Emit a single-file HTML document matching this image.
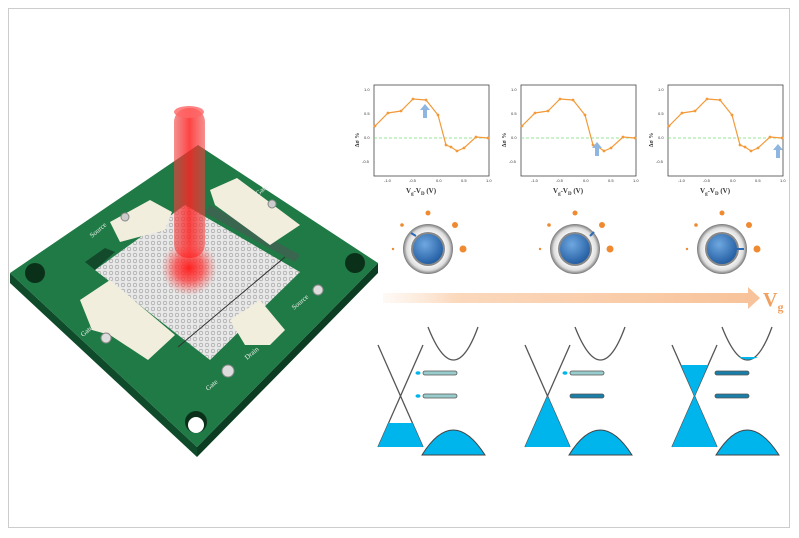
<!DOCTYPE html>
<html><head><meta charset="utf-8"><style>
html,body{margin:0;padding:0;background:#fff;}
svg{display:block;font-family:"Liberation Serif",serif;}
</style></head><body>
<svg width="799" height="538" viewBox="0 0 799 538" xmlns="http://www.w3.org/2000/svg">
<defs>
<linearGradient id="arr" x1="0" x2="1" y1="0" y2="0">
<stop offset="0" stop-color="#fbe3cf" stop-opacity="0.2"/><stop offset="0.2" stop-color="#fbd9bd"/><stop offset="1" stop-color="#f8c39a"/></linearGradient>
<radialGradient id="blue" cx="0.4" cy="0.35" r="0.7"><stop offset="0" stop-color="#6fa8e0"/><stop offset="1" stop-color="#1f5aa0"/></radialGradient>
<radialGradient id="ring" cx="0.5" cy="0.5" r="0.5"><stop offset="0.6" stop-color="#fff"/><stop offset="0.85" stop-color="#ddd"/><stop offset="1" stop-color="#777"/></radialGradient>
<radialGradient id="spot" cx="0.5" cy="0.5" r="0.5"><stop offset="0" stop-color="#ff2020"/><stop offset="0.5" stop-color="#f33" stop-opacity="0.7"/><stop offset="1" stop-color="#f66" stop-opacity="0"/></radialGradient>
<linearGradient id="beam" x1="0" x2="1"><stop offset="0" stop-color="#e44" stop-opacity="0.6"/><stop offset="0.5" stop-color="#f22" stop-opacity="0.85"/><stop offset="1" stop-color="#e44" stop-opacity="0.6"/></linearGradient>
<pattern id="hex" width="6" height="6" patternUnits="userSpaceOnUse"><rect width="6" height="6" fill="#e8e8e8"/><circle cx="3" cy="3" r="1.8" fill="none" stroke="#999" stroke-width="0.6"/></pattern>
</defs>
<rect x="8.5" y="8.5" width="781" height="519" fill="#fff" stroke="#ccc"/>

<!-- chip -->
<polygon points="10,273 197,447 197,457 10,283" fill="#0f4a2a"/>
<polygon points="197,447 378,263 378,273 197,457" fill="#0c3d22"/>
<polygon points="198,145 378,263 197,447 10,273" fill="#1f7a45"/>
<circle cx="35" cy="273" r="10" fill="#0b3019"/>
<circle cx="355" cy="263" r="10" fill="#0b3019"/>
<circle cx="196" cy="422" r="11" fill="#0b3019"/><circle cx="196" cy="425" r="8" fill="#fff"/>
<!-- graphene area -->
<polygon points="185,205 300,272 210,360 95,270" fill="url(#hex)"/>
<polygon points="85,262 105,248 115,252 95,270" fill="#134a2c"/>
<polygon points="210,205 300,255 295,262 205,213" fill="#3a6650"/>
<!-- electrodes -->
<polygon points="110,222 150,200 172,212 165,230 120,242" fill="#f2eedd"/>
<polygon points="210,190 237,178 300,225 270,245 215,205" fill="#f2eedd"/>
<polygon points="80,300 110,280 175,335 148,360 110,335 92,330" fill="#f2eedd"/>
<polygon points="230,320 260,300 285,330 270,345 245,345" fill="#f2eedd"/>
<circle cx="125" cy="217" r="4" fill="#ccc" stroke="#888"/>
<circle cx="272" cy="204" r="4" fill="#ccc" stroke="#888"/>
<circle cx="318" cy="290" r="5" fill="#ddd" stroke="#888"/>
<circle cx="106" cy="338" r="5" fill="#ddd" stroke="#888"/>
<circle cx="228" cy="371" r="6" fill="#ddd" stroke="#888"/>
<line x1="178" y1="347" x2="285" y2="257" stroke="#333" stroke-width="1"/>
<g font-size="7" fill="#eee">
<text x="92" y="238" transform="rotate(-40 92 238)">Source</text>
<text x="258" y="196" transform="rotate(-40 258 196)">Gate</text>
<text x="294" y="310" transform="rotate(-40 294 310)">Source</text>
<text x="83" y="337" transform="rotate(-40 83 337)">Gate</text>
<text x="247" y="360" transform="rotate(-40 247 360)">Drain</text>
<text x="208" y="391" transform="rotate(-40 208 391)">Gate</text>
</g>
<!-- beam -->
<rect x="174" y="108" width="31" height="150" rx="14" fill="url(#beam)"/>
<ellipse cx="189" cy="112" rx="15" ry="6" fill="#f66" opacity="0.8"/>
<circle cx="189" cy="268" r="28" fill="url(#spot)"/>

<!-- plots -->
<g id="p1" transform="translate(360,70)">
<rect x="14" y="15" width="115" height="91" fill="#fff" stroke="#444" stroke-width="0.8"/>
<line x1="14" y1="68" x2="129" y2="68" stroke="#7d7" stroke-dasharray="3,2" stroke-width="0.8"/>
<polyline points="15,56 28,43 41,41 53,29 66,30 78,45 86,75 91,77 97,81 104,78 116,67 128,68" fill="none" stroke="#f39a3a" stroke-width="1.2"/>
<g fill="#f39a3a"><circle cx="15" cy="56" r="1.4"/><circle cx="28" cy="43" r="1.4"/><circle cx="41" cy="41" r="1.4"/><circle cx="53" cy="29" r="1.4"/><circle cx="66" cy="30" r="1.4"/><circle cx="78" cy="45" r="1.4"/><circle cx="86" cy="75" r="1.4"/><circle cx="91" cy="77" r="1.4"/><circle cx="97" cy="81" r="1.4"/><circle cx="104" cy="78" r="1.4"/><circle cx="116" cy="67" r="1.4"/><circle cx="128" cy="68" r="1.4"/></g>
<g font-size="4" fill="#333" font-family="Liberation Sans,sans-serif"><text x="4" y="21">1.0</text><text x="4" y="45">0.5</text><text x="4" y="69">0.0</text><text x="2" y="93">-0.5</text>
<text x="24" y="112">-1.0</text><text x="49" y="112">-0.5</text><text x="76" y="112">0.0</text><text x="101" y="112">0.5</text><text x="126" y="112">1.0</text></g>
<text x="46" y="123" font-size="7" font-weight="bold" fill="#333">V<tspan font-size="5" dy="2">g</tspan><tspan dy="-2">-V</tspan><tspan font-size="5" dy="2">D</tspan><tspan dy="-2"> (V)</tspan></text>
<text x="-1" y="70" font-size="6" font-weight="bold" fill="#333" transform="rotate(-90 -1 70)" text-anchor="middle">Δσ %</text>
</g>
<use href="#p1" x="147"/>
<use href="#p1" x="294"/>
<g fill="#8fb6e0">
<polygon points="420,110 425,104 430,110 427,110 427,118 423,118 423,110"/>
<polygon points="592,148 597,142 602,148 599,148 599,156 595,156 595,148"/>
<polygon points="773,150 778,144 783,150 780,150 780,158 776,158 776,150"/>
</g>

<!-- knobs -->
<g id="k1">
<circle cx="428" cy="249" r="25" fill="url(#ring)"/>
<circle cx="428" cy="249" r="17" fill="#888"/>
<circle cx="428" cy="249" r="15" fill="url(#blue)"/>
<g fill="#f08a30"><circle cx="428" cy="213" r="2.5"/><circle cx="402" cy="225" r="1.8"/><circle cx="455" cy="225" r="3"/><circle cx="463" cy="249" r="3.5"/><circle cx="393" cy="249" r="1.2"/></g>
</g>
<use href="#k1" x="147"/>
<use href="#k1" x="294"/>
<line x1="411" y1="233" x2="416" y2="236" stroke="#2a6ab5" stroke-width="2"/>
<line x1="590" y1="236" x2="594" y2="232" stroke="#2a6ab5" stroke-width="2"/>
<line x1="737" y1="249" x2="744" y2="249" stroke="#2a6ab5" stroke-width="2"/>

<!-- arrow -->
<rect x="383" y="293" width="366" height="10" fill="url(#arr)"/>
<polygon points="748,287 760,298 748,309" fill="#f8c39a"/>
<text x="763" y="306" font-size="20" font-weight="bold" fill="#f0a060">V<tspan font-size="12" dy="5">g</tspan></text>

<!-- band diagrams -->
<g id="b1">
<path d="M428,327 Q454,393 478,327" fill="none" stroke="#555" stroke-width="1.3"/>
<path d="M422,455 Q453,405 485,455 Z" fill="#00b4ec" stroke="#444" stroke-width="1"/>
<line x1="378" y1="345" x2="423" y2="447" stroke="#555" stroke-width="1.3"/>
<line x1="423" y1="345" x2="378" y2="447" stroke="#555" stroke-width="1.3"/>
</g>
<g transform="translate(147,0)"><use href="#b1"/></g>
<g transform="translate(294,0)"><use href="#b1"/></g>
<!-- fills -->
<polygon points="388.6,423 412.4,423 423,447 378,447" fill="#00b4ec"/>
<polygon points="547.5,396 570,447 525,447" fill="#00b4ec"/>
<polygon points="694.5,396 717,447 672,447" fill="#00b4ec"/>
<polygon points="681,365 708,365 694.5,396" fill="#00b4ec"/>
<path d="M739,357 Q748,362 758,357 Z" fill="#00b4ec"/>
<!-- bars -->
<g stroke="#555" stroke-width="0.8">
<rect x="423" y="371" width="34" height="4" rx="2" fill="#9cc"/>
<rect x="423" y="394" width="34" height="4" rx="2" fill="#9cc"/>
<rect x="570" y="371" width="34" height="4" rx="2" fill="#9cc"/>
<rect x="570" y="394" width="34" height="4" rx="2" fill="#1a7fa8"/>
<rect x="715" y="371" width="34" height="4" rx="2" fill="#1a7fa8"/>
<rect x="715" y="394" width="34" height="4" rx="2" fill="#1a7fa8"/>
</g>
<g fill="#00b4ec"><ellipse cx="418" cy="373" rx="2.5" ry="1.8"/><ellipse cx="418" cy="396" rx="2.5" ry="1.8"/><ellipse cx="565" cy="373" rx="2.5" ry="1.8"/></g>
</svg>
</body></html>
